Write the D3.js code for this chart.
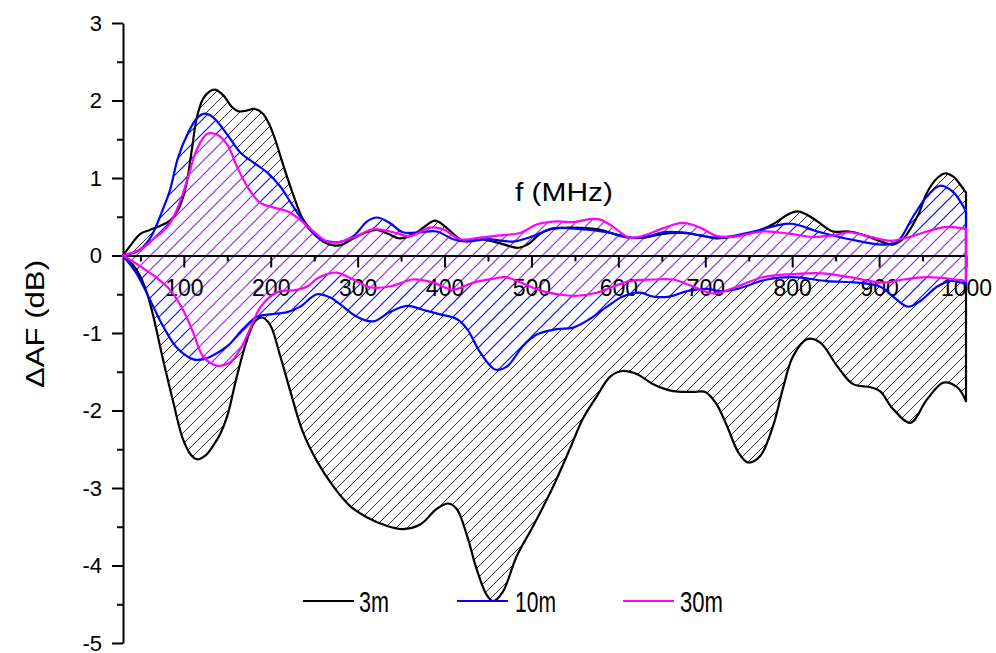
<!DOCTYPE html>
<html>
<head>
<meta charset="utf-8">
<script src="https://cdn.jsdelivr.net/npm/d3@7"></script>
<style>
  html, body { margin: 0; padding: 0; background: #fff; }
  svg { display: block; }
  text { font-family: "Liberation Sans", Arial, Helvetica, sans-serif; fill: #000; }
</style>
</head>
<body>
<svg id="chart" width="996" height="653"></svg>
<script>
// ΔAF envelopes (upper / lower bound) per measurement distance, [f (MHz), dB]
const up3m = [[30,0],[40,0.15],[50,0.28],[61,0.33],[70,0.37],[84,0.45],[93,0.58],[99,0.75],[104,0.98],[109,1.35],[115,1.78],[122,2.02],[130,2.12],[136,2.14],[146,2.06],[155,1.92],[163,1.86],[172,1.87],[182,1.89],[191,1.83],[198,1.70],[205,1.50],[214,1.18],[226,0.78],[237,0.47],[249,0.30],[260,0.18],[272,0.13],[282,0.14],[295,0.22],[310,0.30],[322,0.33],[335,0.28],[348,0.22],[364,0.27],[378,0.38],[389,0.45],[400,0.38],[410,0.28],[420,0.20],[441,0.21],[460,0.17],[475,0.12],[485,0.10],[498,0.16],[510,0.28],[522,0.34],[544,0.36],[575,0.34],[598,0.27],[613,0.23],[630,0.23],[651,0.28],[674,0.29],[694,0.26],[714,0.22],[735,0.25],[752,0.29],[770,0.36],[783,0.44],[795,0.53],[806,0.57],[818,0.52],[829,0.44],[847,0.31],[866,0.31],[886,0.25],[905,0.17],[916,0.14],[928,0.22],[938,0.38],[946,0.55],[955,0.81],[967,1.0],[976,1.06],[985,1.02],[993,0.92],[1000,0.81]];
const lo3m = [[30,0],[40,-0.1],[50,-0.27],[58,-0.5],[65,-0.79],[76,-1.34],[88,-1.9],[99,-2.37],[108,-2.57],[116,-2.63],[125,-2.58],[134,-2.45],[142,-2.3],[150,-2.07],[161,-1.56],[173,-1.08],[182,-0.85],[190,-0.80],[199,-0.89],[211,-1.30],[222,-1.73],[237,-2.28],[253,-2.65],[272,-2.98],[291,-3.23],[311,-3.38],[334,-3.49],[352,-3.53],[372,-3.47],[391,-3.27],[404,-3.2],[414,-3.27],[426,-3.62],[437,-4.05],[449,-4.39],[456,-4.46],[467,-4.34],[483,-3.88],[502,-3.49],[525,-2.98],[544,-2.5],[559,-2.11],[575,-1.82],[590,-1.57],[604,-1.49],[621,-1.53],[640,-1.66],[663,-1.75],[686,-1.76],[700,-1.76],[712,-1.9],[725,-2.2],[738,-2.54],[749,-2.67],[763,-2.59],[778,-2.2],[789,-1.73],[801,-1.30],[817,-1.08],[832,-1.12],[852,-1.43],[870,-1.66],[890,-1.70],[901,-1.75],[916,-1.98],[936,-2.16],[955,-1.86],[974,-1.64],[990,-1.70],[1000,-1.88]];
const up10m = [[30,0],[46,0.05],[58,0.17],[65,0.3],[76,0.6],[84,0.84],[93,1.25],[104,1.56],[115,1.77],[124,1.83],[134,1.78],[150,1.56],[165,1.33],[180,1.2],[196,1.07],[211,0.89],[226,0.63],[242,0.37],[257,0.21],[268,0.18],[278,0.17],[295,0.25],[311,0.44],[322,0.49],[337,0.42],[352,0.30],[372,0.30],[391,0.31],[410,0.21],[426,0.18],[449,0.21],[479,0.18],[502,0.25],[525,0.35],[556,0.34],[587,0.30],[613,0.23],[635,0.25],[651,0.30],[674,0.30],[714,0.23],[752,0.30],[798,0.41],[829,0.31],[866,0.21],[905,0.14],[921,0.18],[939,0.5],[955,0.76],[970,0.9],[985,0.82],[1000,0.57]];
const lo10m = [[30,0],[46,-0.24],[61,-0.57],[76,-0.91],[92,-1.19],[111,-1.34],[122,-1.34],[130,-1.31],[150,-1.17],[168,-0.95],[184,-0.79],[199,-0.76],[219,-0.73],[234,-0.66],[253,-0.50],[268,-0.54],[280,-0.63],[299,-0.79],[318,-0.85],[337,-0.73],[357,-0.65],[375,-0.70],[395,-0.76],[414,-0.82],[426,-0.95],[441,-1.25],[458,-1.47],[472,-1.43],[490,-1.17],[506,-1.02],[529,-0.95],[548,-0.93],[567,-0.82],[587,-0.66],[605,-0.53],[625,-0.48],[640,-0.53],[659,-0.53],[679,-0.46],[702,-0.43],[717,-0.46],[737,-0.43],[771,-0.31],[801,-0.28],[840,-0.33],[875,-0.35],[901,-0.40],[916,-0.53],[933,-0.66],[947,-0.59],[967,-0.40],[982,-0.33],[1000,-0.37]];
const up30m = [[30,0],[50,0.08],[65,0.21],[81,0.37],[92,0.59],[104,0.98],[115,1.37],[127,1.57],[138,1.56],[150,1.43],[161,1.15],[173,0.89],[188,0.68],[203,0.62],[219,0.57],[234,0.46],[249,0.31],[265,0.18],[276,0.17],[299,0.25],[318,0.34],[341,0.30],[360,0.25],[383,0.36],[398,0.34],[418,0.21],[441,0.23],[464,0.26],[487,0.29],[506,0.40],[529,0.44],[548,0.43],[567,0.47],[580,0.46],[594,0.37],[613,0.23],[630,0.26],[651,0.35],[674,0.42],[694,0.36],[714,0.25],[737,0.25],[766,0.31],[798,0.28],[824,0.24],[852,0.27],[866,0.30],[890,0.24],[913,0.19],[932,0.23],[955,0.31],[978,0.37],[1000,0.34]];
const lo30m = [[30,0],[50,-0.14],[69,-0.29],[84,-0.44],[99,-0.70],[111,-1.0],[122,-1.3],[138,-1.42],[153,-1.38],[165,-1.21],[176,-0.95],[188,-0.67],[203,-0.50],[211,-0.46],[226,-0.45],[242,-0.40],[253,-0.30],[265,-0.24],[276,-0.22],[295,-0.31],[314,-0.41],[337,-0.40],[364,-0.31],[387,-0.35],[410,-0.44],[433,-0.35],[456,-0.30],[470,-0.28],[490,-0.36],[510,-0.45],[536,-0.51],[550,-0.52],[575,-0.48],[594,-0.40],[613,-0.33],[640,-0.31],[663,-0.31],[686,-0.40],[709,-0.49],[737,-0.40],[766,-0.28],[801,-0.24],[835,-0.23],[866,-0.28],[905,-0.35],[928,-0.31],[955,-0.28],[982,-0.30],[1000,-0.33]];

const seriesNames = ["3m", "10m", "30m"];
const xMajorTicks = [100, 200, 300, 400, 500, 600, 700, 800, 900, 1000];
const xMinorTicks = [50, 150, 250, 350, 450, 550, 650, 750, 850, 950];
const yMajorTicks = [-5, -4, -3, -2, -1, 0, 1, 2, 3];
const yMinorTicks = [-4.5, -3.5, -2.5, -1.5, -0.5, 0.5, 1.5, 2.5];

const W = 996, H = 653;
const svg = d3.select("#chart");
svg.append("rect").attr("width", W).attr("height", H).attr("fill", "#fff");

const x = d3.scaleLinear().domain([30, 1000]).range([123, 966]);
const y = d3.scaleLinear().domain([-5, 3]).range([643, 23]);

const styles = [
  { name: seriesNames[0], up: up3m,  lo: lo3m,  color: "#000000", hatch: "#000000", gap: 11, hw: 0.8, id: "hatch3" },
  { name: seriesNames[1], up: up10m, lo: lo10m, color: "#0000ff", hatch: "#0000ff", gap: 14, hw: 1.1, id: "hatch10" },
  { name: seriesNames[2], up: up30m, lo: lo30m, color: "#ff00ff", hatch: "#a020f0", gap: 14, hw: 1.2, id: "hatch30" }
];

// diagonal hatch patterns on a white ground
const defs = svg.append("defs");
styles.forEach(s => {
  const g = s.gap;
  const p = defs.append("pattern")
    .attr("id", s.id)
    .attr("patternUnits", "userSpaceOnUse")
    .attr("width", g).attr("height", g);
  p.append("rect").attr("width", g).attr("height", g).attr("fill", "#fff");
  p.append("path")
    .attr("d", `M-2,2 L2,-2 M0,${g} L${g},0 M${g - 2},${g + 2} L${g + 2},${g - 2}`)
    .attr("stroke", s.hatch)
    .attr("stroke-width", s.hw)
    .attr("fill", "none");
});

const line = d3.line()
  .x(d => x(d[0]))
  .y(d => y(d[1]))
  .curve(d3.curveCatmullRom.alpha(0.5));

function bandPath(up, lo) {
  return line(up) + line(lo.slice().reverse()).replace(/^M/, "L") + "Z";
}

// hatched bands
const bands = svg.append("g");
styles.forEach(s => {
  bands.append("path")
    .attr("d", bandPath(s.up, s.lo))
    .attr("fill", `url(#${s.id})`)
    .attr("stroke", "none");
});

// axes
const font = "'Liberation Sans', Arial, sans-serif";
function styleAxis(g, fs) {
  g.selectAll("path.domain").attr("stroke", "#000").attr("stroke-width", 2);
  g.selectAll(".tick line").attr("stroke", "#000").attr("stroke-width", 2);
  g.selectAll(".tick text").attr("font-family", font).attr("font-size", fs).attr("fill", "#000");
}

const gxMinor = svg.append("g")
  .attr("transform", `translate(0,${y(0)})`)
  .call(d3.axisBottom(x).tickValues(xMinorTicks).tickSize(6).tickSizeOuter(0).tickFormat(""));
gxMinor.select("path.domain").remove();
styleAxis(gxMinor, 22);

const gx = svg.append("g")
  .attr("transform", `translate(0,${y(0)})`)
  .call(d3.axisBottom(x).tickValues(xMajorTicks).tickSize(12).tickSizeOuter(0).tickPadding(12).tickFormat(d => String(d)));
styleAxis(gx, 23);

const gyMinor = svg.append("g")
  .attr("transform", `translate(${x(30)},0)`)
  .call(d3.axisLeft(y).tickValues(yMinorTicks).tickSize(6).tickSizeOuter(0).tickFormat(""));
gyMinor.select("path.domain").remove();
styleAxis(gyMinor, 22);

const gy = svg.append("g")
  .attr("transform", `translate(${x(30)},0)`)
  .call(d3.axisLeft(y).tickValues(yMajorTicks).tickSize(11).tickSizeOuter(0).tickPadding(10).tickFormat(d => String(d)));
styleAxis(gy, 22);

// band outlines
const outlines = svg.append("g");
styles.forEach(s => {
  outlines.append("path")
    .attr("d", bandPath(s.up, s.lo))
    .attr("fill", "none")
    .attr("stroke", s.color)
    .attr("stroke-width", 2.2)
    .attr("stroke-linejoin", "round");
});

// axis titles
svg.append("text")
  .attr("x", 515).attr("y", 201)
  .attr("font-size", 26)
  .attr("textLength", 98)
  .attr("lengthAdjust", "spacingAndGlyphs")
  .text("f (MHz)");

svg.append("text")
  .attr("transform", "translate(44,324) rotate(-90)")
  .attr("text-anchor", "middle")
  .attr("font-size", 25)
  .attr("textLength", 128)
  .attr("lengthAdjust", "spacingAndGlyphs")
  .text("ΔAF (dB)");

// legend
const legendItems = [
  { x0: 303, tx: 359, tl: 30 },
  { x0: 457, tx: 515, tl: 41 },
  { x0: 623, tx: 680, tl: 43 }
];
const legend = svg.append("g");
styles.forEach((s, i) => {
  const li = legendItems[i];
  legend.append("line")
    .attr("x1", li.x0).attr("x2", li.x0 + 51)
    .attr("y1", 601).attr("y2", 601)
    .attr("stroke", s.color).attr("stroke-width", 2.2);
  legend.append("text")
    .attr("x", li.tx).attr("y", 612)
    .attr("font-size", 30)
    .attr("textLength", li.tl)
    .attr("lengthAdjust", "spacingAndGlyphs")
    .text(s.name);
});
</script>
</body>
</html>
